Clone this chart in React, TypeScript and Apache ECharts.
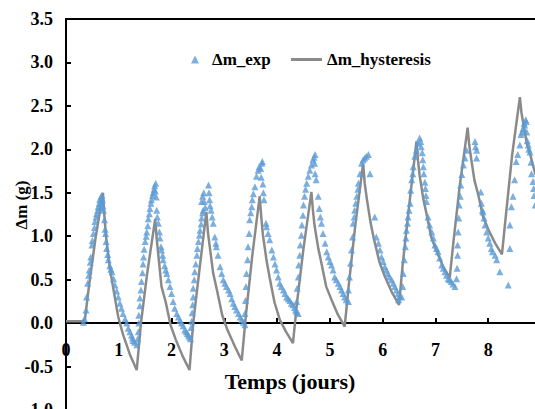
import React, { useEffect, useRef } from "react";
import * as echarts from "echarts";

// Tick values
const xTicks = [0, 1, 2, 3, 4, 5, 6, 7, 8];
const yTicks = [-1.0, -0.5, 0.0, 0.5, 1.0, 1.5, 2.0, 2.5, 3.0, 3.5];

// Δm_hysteresis model curve: [days, grams]
const hysteresisPoints: [number, number][] = [
  [0, 0.02], [0.32, 0.02], [0.36, 0.05], [0.44, 0.45], [0.56, 0.98], [0.70, 1.50],
  [0.73, 1.21], [0.76, 0.99], [0.83, 0.64], [0.89, 0.42], [0.99, 0.07], [1.08, -0.13], [1.21, -0.36], [1.34, -0.54],
  [1.42, 0.0], [1.54, 0.58], [1.69, 1.20],
  [1.72, 0.96], [1.76, 0.72], [1.81, 0.42], [1.89, 0.24], [1.98, -0.02], [2.08, -0.19], [2.21, -0.38], [2.34, -0.54],
  [2.41, 0.0], [2.52, 0.57], [2.66, 1.28],
  [2.69, 1.04], [2.73, 0.85], [2.79, 0.57], [2.86, 0.38], [2.96, 0.09], [3.06, -0.08], [3.20, -0.27], [3.33, -0.43],
  [3.41, 0.10], [3.53, 0.78], [3.67, 1.46],
  [3.70, 1.22], [3.73, 1.02], [3.80, 0.72], [3.86, 0.52], [3.95, 0.24], [4.05, 0.04], [4.17, -0.10], [4.30, -0.23],
  [4.38, 0.25], [4.50, 0.86], [4.65, 1.51],
  [4.68, 1.29], [4.71, 1.12], [4.78, 0.86], [4.84, 0.69], [4.93, 0.42], [5.03, 0.27], [5.15, 0.10], [5.28, -0.04],
  [5.36, 0.45], [5.48, 1.12], [5.63, 1.84],
  [5.66, 1.61], [5.70, 1.43], [5.77, 1.16], [5.83, 0.98], [5.94, 0.70], [6.04, 0.54], [6.17, 0.36], [6.31, 0.21],
  [6.38, 0.68], [6.50, 1.34], [6.64, 2.09],
  [6.67, 1.87], [6.70, 1.70], [6.77, 1.43], [6.83, 1.26], [6.92, 0.99], [7.02, 0.83], [7.14, 0.66], [7.27, 0.52],
  [7.34, 0.93], [7.46, 1.58], [7.61, 2.25],
  [7.64, 2.05], [7.68, 1.88], [7.74, 1.64], [7.81, 1.48], [7.90, 1.23], [8.00, 1.08], [8.13, 0.92], [8.26, 0.79],
  [8.33, 1.21], [8.45, 1.92], [8.60, 2.60],
  [8.63, 2.42], [8.67, 2.28], [8.73, 2.07], [8.80, 1.93], [8.89, 1.72], [9.00, 1.59],
];

// Δm_exp measured points, one array per daily cycle: [days, grams]
const expCycle1: [number, number][] = [
  [0.33, 0.01], [0.35, 0.05], [0.38, 0.15], [0.39, 0.30], [0.41, 0.46], [0.43, 0.55], [0.44, 0.61], [0.46, 0.70],
  [0.47, 0.76], [0.49, 0.90], [0.50, 0.95], [0.52, 1.03], [0.54, 1.10], [0.55, 1.17], [0.57, 1.22], [0.58, 1.26],
  [0.60, 1.30], [0.61, 1.34], [0.63, 1.38], [0.64, 1.42], [0.65, 1.33], [0.66, 1.45], [0.67, 1.38], [0.68, 1.47],
  [0.69, 1.42], [0.70, 1.35], [0.71, 1.30], [0.73, 1.19], [0.74, 1.08], [0.75, 1.03], [0.76, 0.94], [0.77, 0.86],
  [0.79, 0.79], [0.80, 0.73], [0.83, 0.66], [0.85, 0.62], [0.87, 0.59], [0.90, 0.51], [0.93, 0.44], [0.96, 0.37],
  [0.99, 0.30], [1.02, 0.23], [1.05, 0.17], [1.08, 0.11], [1.12, 0.05], [1.15, 0.0], [1.18, -0.06], [1.21, -0.10],
  [1.24, -0.14], [1.26, -0.17], [1.27, -0.20], [1.30, -0.22], [1.34, -0.25],
];
const expCycle2: [number, number][] = [
  [1.36, -0.18], [1.37, -0.10], [1.38, 0.0], [1.38, 0.09], [1.40, 0.20], [1.40, 0.29], [1.42, 0.38], [1.43, 0.48],
  [1.45, 0.58], [1.46, 0.68], [1.47, 0.76], [1.48, 0.85], [1.50, 0.94], [1.52, 1.00], [1.53, 1.05], [1.55, 1.12],
  [1.56, 1.20], [1.58, 1.26], [1.59, 1.32], [1.61, 1.38], [1.62, 1.42], [1.64, 1.47], [1.65, 1.50], [1.67, 1.54],
  [1.68, 1.58], [1.69, 1.52], [1.70, 1.61], [1.71, 1.45], [1.72, 1.30], [1.73, 1.22], [1.75, 1.15], [1.77, 1.05],
  [1.78, 0.98], [1.80, 0.88], [1.81, 0.84], [1.83, 0.78], [1.84, 0.73], [1.87, 0.66], [1.89, 0.61], [1.91, 0.57],
  [1.94, 0.50], [1.97, 0.42], [2.00, 0.34], [2.03, 0.25], [2.06, 0.17], [2.10, 0.11], [2.13, 0.07], [2.16, 0.03],
  [2.19, 0.0], [2.22, -0.03], [2.25, -0.08], [2.28, -0.10], [2.30, -0.12], [2.32, -0.14], [2.34, -0.16], [2.36, -0.18],
];
const expCycle3: [number, number][] = [
  [2.37, -0.05], [2.38, 0.02], [2.39, 0.12], [2.40, 0.21], [2.41, 0.30], [2.41, 0.40], [2.43, 0.50], [2.44, 0.59],
  [2.46, 0.68], [2.48, 0.78], [2.49, 0.86], [2.51, 0.94], [2.53, 1.01], [2.54, 1.07], [2.56, 1.14], [2.57, 1.21],
  [2.59, 1.27], [2.60, 1.30], [2.57, 1.40], [2.59, 1.46], [2.61, 1.50], [2.62, 1.40], [2.64, 1.33], [2.70, 1.59],
  [2.71, 1.50], [2.72, 1.42], [2.73, 1.35], [2.75, 1.30], [2.77, 1.22], [2.79, 1.15], [2.82, 0.99], [2.84, 0.92],
  [2.85, 0.88], [2.88, 0.78], [2.92, 0.65], [2.95, 0.57], [2.98, 0.50], [3.01, 0.46], [3.04, 0.42], [3.08, 0.38],
  [3.11, 0.34], [3.14, 0.28], [3.17, 0.23], [3.20, 0.19], [3.23, 0.15], [3.27, 0.11], [3.30, 0.07], [3.33, 0.04],
  [3.36, 0.01], [3.39, -0.02],
];
const expCycle4: [number, number][] = [
  [3.39, 0.11], [3.40, 0.26], [3.41, 0.42], [3.42, 0.57], [3.44, 0.73], [3.45, 0.88], [3.47, 1.03], [3.48, 1.19],
  [3.50, 1.27], [3.52, 1.34], [3.53, 1.42], [3.55, 1.49], [3.58, 1.57], [3.61, 1.69], [3.64, 1.76], [3.66, 1.80],
  [3.69, 1.78], [3.71, 1.84], [3.72, 1.86], [3.70, 1.68], [3.73, 1.60], [3.74, 1.50], [3.75, 1.42], [3.79, 1.15],
  [3.80, 1.11], [3.83, 1.03], [3.86, 0.96], [3.90, 0.84], [3.93, 0.76], [3.96, 0.68], [3.99, 0.61], [4.02, 0.53],
  [4.05, 0.46], [4.08, 0.42], [4.12, 0.38], [4.15, 0.34], [4.18, 0.30], [4.21, 0.28], [4.24, 0.26], [4.27, 0.23],
  [4.30, 0.21], [4.33, 0.18], [4.35, 0.15], [4.37, 0.13], [4.40, 0.11],
];
const expCycle5: [number, number][] = [
  [4.37, 0.25], [4.38, 0.40], [4.40, 0.53], [4.41, 0.67], [4.43, 0.78], [4.44, 0.90], [4.46, 1.01], [4.47, 1.13],
  [4.49, 1.24], [4.50, 1.36], [4.52, 1.46], [4.54, 1.54], [4.56, 1.61], [4.59, 1.69], [4.62, 1.76], [4.65, 1.82],
  [4.68, 1.88], [4.70, 1.91], [4.72, 1.94], [4.71, 1.84], [4.72, 1.72], [4.74, 1.65], [4.78, 1.46], [4.80, 1.32],
  [4.82, 1.22], [4.84, 1.15], [4.87, 1.03], [4.91, 0.92], [4.94, 0.82], [4.97, 0.76], [5.00, 0.71], [5.03, 0.67],
  [5.06, 0.61], [5.09, 0.53], [5.12, 0.50], [5.16, 0.46], [5.19, 0.42], [5.22, 0.38], [5.25, 0.34], [5.28, 0.30],
  [5.31, 0.27], [5.35, 0.25],
];
const expCycle6: [number, number][] = [
  [5.35, 0.38], [5.37, 0.53], [5.39, 0.69], [5.41, 0.84], [5.43, 0.99], [5.44, 1.15], [5.46, 1.22], [5.47, 1.30],
  [5.49, 1.38], [5.51, 1.46], [5.53, 1.54], [5.54, 1.61], [5.57, 1.72], [5.60, 1.84], [5.63, 1.88], [5.66, 1.90],
  [5.69, 1.92], [5.73, 1.94], [5.76, 1.72], [5.85, 1.22], [5.88, 0.99], [5.92, 0.92], [5.95, 0.84], [5.98, 0.76],
  [6.01, 0.71], [6.04, 0.65], [6.07, 0.61], [6.10, 0.57], [6.13, 0.53], [6.17, 0.50], [6.20, 0.46], [6.23, 0.42],
  [6.26, 0.38], [6.29, 0.34], [6.30, 0.27], [6.32, 0.31], [6.36, 0.30],
];
const expCycle7: [number, number][] = [
  [6.38, 0.42], [6.39, 0.57], [6.41, 0.73], [6.43, 0.88], [6.44, 0.98], [6.45, 1.07], [6.47, 1.15], [6.48, 1.22],
  [6.50, 1.30], [6.52, 1.38], [6.53, 1.53], [6.55, 1.65], [6.57, 1.72], [6.58, 1.80], [6.61, 1.92], [6.64, 1.99],
  [6.67, 2.07], [6.70, 2.13], [6.72, 2.09], [6.73, 2.03], [6.75, 1.96], [6.76, 1.88], [6.77, 1.80], [6.78, 1.72],
  [6.80, 1.62], [6.81, 1.55], [6.82, 1.47], [6.83, 1.40], [6.86, 1.22], [6.89, 1.13], [6.93, 1.05], [6.96, 0.98],
  [6.99, 0.90], [7.02, 0.86], [7.05, 0.82], [7.08, 0.75], [7.12, 0.67], [7.15, 0.63], [7.18, 0.59], [7.21, 0.55],
  [7.24, 0.51], [7.27, 0.50], [7.30, 0.48], [7.33, 0.45], [7.37, 0.42],
];
const expCycle8: [number, number][] = [
  [7.40, 0.51], [7.41, 0.63], [7.42, 0.78], [7.42, 0.90], [7.43, 1.05], [7.44, 1.21], [7.45, 1.36], [7.47, 1.46],
  [7.48, 1.59], [7.50, 1.71], [7.53, 1.82], [7.56, 1.90], [7.59, 1.99], [7.75, 2.09], [7.76, 2.03], [7.78, 1.99],
  [7.78, 1.90], [7.86, 1.51], [7.87, 1.38], [7.89, 1.30], [7.90, 1.28], [7.92, 1.21], [7.94, 1.13], [7.97, 1.05],
  [8.00, 0.98], [8.03, 0.92], [8.06, 0.86], [8.08, 0.82], [8.13, 0.78], [8.16, 0.73], [8.22, 0.59], [8.38, 0.44],
];
const expCycle9: [number, number][] = [
  [8.41, 0.86], [8.41, 1.13], [8.44, 1.34], [8.47, 1.46], [8.50, 1.65], [8.53, 1.86], [8.56, 1.94], [8.60, 2.05],
  [8.62, 2.17], [8.64, 2.20], [8.66, 2.24], [8.68, 2.30], [8.69, 2.28], [8.71, 2.34], [8.72, 2.32], [8.73, 2.20],
  [8.74, 2.10], [8.76, 2.05], [8.77, 2.00], [8.79, 1.97], [8.81, 1.85], [8.82, 1.72], [8.85, 1.63], [8.86, 1.55],
  [8.87, 1.47], [8.89, 1.36],
];

const seriesNames = ["Δm_exp", "Δm_hysteresis"];
const xAxisTitle = "Temps (jours)";
const yAxisTitle = "Δm (g)";

const FONT = '"Liberation Serif", "Times New Roman", serif';
const EXP_COLOR = "#5b9bd5";
const MODEL_COLOR = "#8a8a8a";

export default function App() {
  const ref = useRef<HTMLDivElement>(null);

  useEffect(() => {
    document.body.style.margin = "0";
    if (!ref.current) return;
    const chart = echarts.init(ref.current, null, { renderer: "svg" });
    const expData = [
      ...expCycle1, ...expCycle2, ...expCycle3, ...expCycle4, ...expCycle5,
      ...expCycle6, ...expCycle7, ...expCycle8, ...expCycle9,
    ];
    const xMax = 9;
    const yMin = yTicks[0];
    const yMax = yTicks[yTicks.length - 1];
    const gridTop = 19;
    const gridHeight = 391;
    // distance from the grid bottom (y = -1) up to y = 0, where the tick labels sit just below
    const zeroLift = gridHeight * (0 - yMin) / (yMax - yMin);
    const legendText = { fontFamily: FONT, fontWeight: "bold", fontSize: 17, color: "#000" };
    const axisBlack = { color: "#000", width: 2 };
    chart.setOption({
      animation: false,
      backgroundColor: "#ffffff",
      grid: {
        left: 66,
        top: gridTop,
        width: 475,
        height: gridHeight,
        show: true,
        borderColor: "#000",
        borderWidth: 2,
        containLabel: false,
        outerBoundsMode: "none",
      },
      legend: [
        {
          left: 186,
          top: 46,
          itemWidth: 8,
          itemHeight: 8,
          itemGap: 0,
          textStyle: { ...legendText, padding: [0, 0, 0, 8] },
          data: [{ name: seriesNames[0], icon: "triangle", itemStyle: { color: EXP_COLOR } }],
        },
        {
          left: 286,
          top: 46,
          itemWidth: 31,
          itemHeight: 3,
          textStyle: legendText,
          data: [{ name: seriesNames[1], icon: "rect", itemStyle: { color: MODEL_COLOR } }],
        },
      ],
      xAxis: {
        type: "value",
        min: xTicks[0],
        max: xMax,
        interval: 1,
        axisLine: { show: true, onZero: true, lineStyle: axisBlack },
        axisTick: { show: true, inside: true, length: 5, lineStyle: axisBlack },
        axisLabel: {
          margin: 18 - zeroLift,
          color: "#000",
          fontFamily: FONT,
          fontWeight: "bold",
          fontSize: 18,
          formatter: (v: number) => (xTicks.includes(v) ? String(v) : ""),
        },
        splitLine: { show: false },
      },
      yAxis: {
        type: "value",
        min: yMin,
        max: yMax,
        interval: 0.5,
        axisLine: { show: true, lineStyle: axisBlack },
        axisTick: { show: true, inside: true, length: 5, lineStyle: axisBlack },
        axisLabel: {
          margin: 13,
          color: "#000",
          fontFamily: FONT,
          fontWeight: "bold",
          fontSize: 18,
          formatter: (v: number) => v.toFixed(1),
        },
        splitLine: { show: false },
      },
      graphic: [
        {
          type: "text",
          x: 21,
          y: 205,
          rotation: Math.PI / 2,
          style: {
            text: yAxisTitle,
            fontFamily: FONT,
            fontWeight: "bold",
            fontSize: 17,
            fill: "#000",
            align: "center",
            verticalAlign: "middle",
          },
        },
        {
          type: "text",
          x: 290,
          y: 381,
          style: {
            text: xAxisTitle,
            fontFamily: FONT,
            fontWeight: "bold",
            fontSize: 22,
            fill: "#000",
            align: "center",
            verticalAlign: "middle",
          },
        },
      ],
      series: [
        {
          name: seriesNames[1],
          type: "line",
          data: hysteresisPoints,
          showSymbol: false,
          symbol: "none",
          lineStyle: { color: MODEL_COLOR, width: 2.5 },
          itemStyle: { color: MODEL_COLOR },
          z: 2,
        },
        {
          name: seriesNames[0],
          type: "scatter",
          data: expData,
          symbol: "triangle",
          symbolSize: 7,
          itemStyle: { color: EXP_COLOR },
          z: 3,
        },
      ],
    });
    return () => chart.dispose();
  }, []);

  return <div ref={ref} style={{ width: 535, height: 409 }} />;
}
